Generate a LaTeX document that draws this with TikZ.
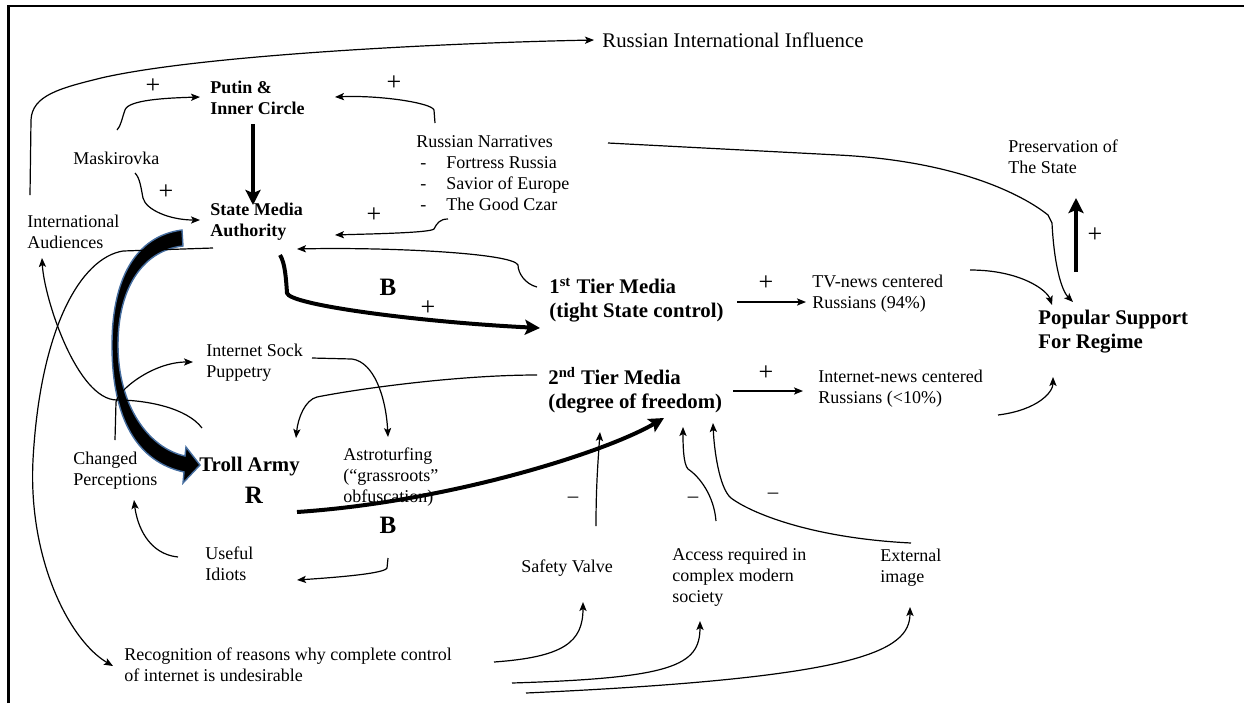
\documentclass[tikz,border=0pt]{standalone}
\usepackage{fontspec}
\setmainfont{Liberation Serif}
\usetikzlibrary{arrows.meta, calc}
\definecolor{brushblue}{RGB}{70, 110, 160}
\newcommand{\narritem}[1]{\hspace*{2pt}\makebox[13pt][l]{-}#1}
\tikzset{
  >=Stealth,
  txt/.style={inner sep=0pt, anchor=west, align=left, font=\fontsize{9}{10.4}\selectfont},
  txtbold/.style={txt, font=\fontsize{9}{10.4}\selectfont\bfseries},
  bigtxt/.style={txt, font=\fontsize{10.4}{12}\selectfont\bfseries},
  bigplain/.style={txt, font=\fontsize{10.4}{12}\selectfont},
  sign/.style={inner sep=0pt, font=\fontsize{13}{14}\selectfont},
  negsign/.style={inner sep=0pt, font=\fontsize{10.4}{12}\selectfont},
  looplbl/.style={inner sep=0pt, font=\fontsize{12.5}{14}\selectfont\bfseries},
  flowarrow/.style={-{Stealth[length=4.5pt, width=3.6pt, inset=1pt]}, line width=0.6pt},
  heavyarrow/.style={-{Stealth[length=7.5pt, width=7.5pt, inset=1.5pt]}, line width=2.4pt},
  bigbrush/.style={fill=black, draw=brushblue, line width=0.7pt}
}
\begin{document}
\begin{tikzpicture}[x=0.5pt, y=-0.5pt]
    \useasboundingbox (0,0) rectangle (1244,703);
    \draw[line width=1.3pt] (8.5,703) -- (8.5,6) -- (1244,6);
    % factors
    \node (rii) [bigplain] at (602,40) {Russian International Influence};
    \node (putin) [txtbold] at (210,98) {Putin \&\\Inner Circle};
    \node (mask) [txt] at (73,158) {Maskirovka};
    \node (sma) [txtbold] at (210,222) {State Media\\Authority};
    \node (intaud) [txt] at (27,232) {International\\Audiences};
    \node (narr) [txt] at (416,173) {Russian Narratives\\\narritem{Fortress Russia}\\\narritem{Savior of Europe}\\\narritem{The Good Czar}};
    \node (pres) [txt] at (1008,157) {Preservation of\\The State};
    \node (tier1) [bigtxt] at (549,300) {1\textsuperscript{st} Tier Media\\(tight State control)};
    \node (tier2) [bigtxt] at (548,390) {2\textsuperscript{nd} Tier Media\\(degree of freedom)};
    \node (tvnews) [txt] at (812,294) {TV-news centered\\Russians (94\%)};
    \node (inews) [txt] at (818,389) {Internet-news centered\\Russians (<10\%)};
    \node (popsup) [bigtxt] at (1038,332) {Popular Support\\For Regime};
    \node (sock) [txt] at (206,363) {Internet Sock\\Puppetry};
    \node (troll) [bigtxt] at (199,467) {Troll Army};
    \node (changed) [txt] at (73,471) {Changed\\Perceptions};
    \node (astro) [txt] at (343,477) {Astroturfing\\(“grassroots”\\obfuscation)};
    \node (useful) [txt] at (205,564) {Useful\\Idiots};
    \node (safety) [txt] at (521,568) {Safety Valve};
    \node (access) [txt] at (672,577) {Access required in\\complex modern\\society};
    \node (extimg) [txt] at (880,568) {External\\image};
    \node (recog) [txt] at (124,665) {Recognition of reasons why complete control\\of internet is undesirable};
    % polarity signs and loop labels
    \node (plputin) [sign] at (153,86) {+};
    \node (plnarr) [sign] at (394,83) {+};
    \node (plmask) [sign] at (166,192) {+};
    \node (plnarrsma) [sign] at (374,215) {+};
    \node (plsma) [sign] at (428,308) {+};
    \node (pltv) [sign] at (766,283) {+};
    \node (plnet) [sign] at (766,373) {+};
    \node (plpres) [sign] at (1095,235) {+};
    \node (mnsafe) [negsign] at (573,500) {–};
    \node (mnaccess) [negsign] at (693,500) {–};
    \node (mnext) [negsign] at (773,496) {–};
    \node (loopb) [looplbl] at (388,287) {B};
    \node (loopr) [looplbl] at (254,495) {R};
    \node (loopbb) [looplbl] at (388,525) {B};
    % links
    \draw[flowarrow] ($(intaud.west)+(3,-37)$) -- ++(1,-75) .. controls +(1,-25) and +(-40,10) .. ++(70,-42) .. controls +(100,-23) and +(-150,3) .. ($(rii.west)+(-8,0)$);
    \draw[flowarrow] ($(mask.west)+(44,-28)$) .. controls +(4,-4) and +(-3,8) .. ++(8,-20) .. controls +(3,-10) and +(-35,1) .. ($(putin.west)+(-10,-1)$);
    \draw[flowarrow] ($(narr.west)+(19,-50)$) -- ++(-1,-13) .. controls +(-2,-7) and +(45,-2) .. ($(putin.west)+(125,-1)$);
    \draw[heavyarrow] ($(putin.west)+(43,26)$) -- ($(sma.west)+(43,-17)$);
    \draw[flowarrow] ($(mask.west)+(62,15)$) .. controls +(5,5) and +(-2,-10) .. ++(8,25) .. controls +(3,12) and +(-30,0) .. ($(sma.west)+(-10,-2)$);
    \draw[flowarrow] ($(narr.west)+(32,46)$) .. controls +(-8,0) and +(3,-6) .. ++(-14,10) .. controls +(-4,4) and +(30,-1) .. ($(sma.west)+(125,13)$);
    \draw[flowarrow] ($(tier1.west)+(-12,-13)$) .. controls +(-12,-3) and +(0,8) .. ++(-19,-22) .. controls +(-5,-12) and +(90,-2) .. ($(sma.west)+(87,27)$);
    \draw[heavyarrow, line width=2pt] ($(sma.west)+(70,33)$) .. controls +(5,8) and +(-1,-15) .. ++(7,38) .. controls +(2,12) and +(-120,-6) .. ($(tier1.west)+(-9,28)$);
    \filldraw[bigbrush] ($(sma.west)+(-28,8)$) -- ($(sma.west)+(-27,24)$) .. controls (145,250) and (118,285) .. (118,345) .. controls (118,405) and (148,448) .. ($(troll.west)+(-14,-11)$) -- ($(troll.west)+(-13,-20)$) -- ($(troll.west)+(1,-2)$) -- ($(troll.west)+(-16,16)$) -- ($(troll.west)+(-15,5)$) .. controls (138,462) and (112,420) .. (112,345) .. controls (112,280) and (135,236) .. ($(sma.west)+(-28,8)$) -- cycle;
    \draw[flowarrow] ($(sock.west)+(106,-5)$) -- ++(40,1) .. controls +(22,3) and +(-2,-40) .. ($(astro.west)+(45,-40)$);
    \draw[flowarrow] ($(tier2.west)+(-11,-15)$) .. controls +(-80,0) and +(40,-8) .. ++(-220,22) .. controls +(-12,3) and +(2,-20) .. ($(troll.west)+(97,-29)$);
    \draw[flowarrow] ($(changed.west)+(42,-31)$) -- ++(1,-38) .. controls +(2,-12) and +(-40,0) .. ($(sock.west)+(-13,-1)$);
    \draw[flowarrow] ($(troll.west)+(3,-39)$) .. controls +(-15,-20) and +(30,0) .. ++(-85,-28) .. controls +(-40,0) and +(2,40) .. ($(intaud.west)+(15,26)$);
    \draw[flowarrow] ($(sma.west)+(3,26)$) -- ++(-90,3) .. controls +(-43,7) and +(7,-130) .. ++(-90,209) .. controls +(-5,100) and +(-43,-25) .. ($(recog.west)+(-11,1)$);
    \draw[heavyarrow, line width=2pt] ($(troll.west)+(98,45)$) .. controls +(150,-10) and +(-60,35) .. ($(tier2.west)+(116,28)$);
    \draw[flowarrow] ($(astro.west)+(45,81)$) -- ++(-1,10) .. controls +(-2,6) and +(30,-2) .. ($(useful.west)+(92,16)$);
    \draw[flowarrow] ($(useful.west)+(-27,-7)$) .. controls +(-30,-3) and +(3,25) .. ($(changed.west)+(61,29)$);
    \draw[flowarrow] ($(safety.west)+(75,-42)$) .. controls +(0,-40) and +(-2,30) .. ($(tier2.west)+(52,42)$);
    \draw[flowarrow] ($(access.west)+(44,-56)$) .. controls +(-2,-25) and +(12,8) .. ++(-28,-52) .. controls +(-5,-5) and +(0,15) .. ($(tier2.west)+(135,37)$);
    \draw[flowarrow] ($(extimg.west)+(31,-25)$) .. controls +(-100,-5) and +(20,15) .. ++(-180,-45) .. controls +(-12,-10) and +(1,25) .. ($(tier2.west)+(165,33)$);
    \draw[flowarrow] ($(recog.west)+(370,-3)$) .. controls +(70,-5) and +(0,40) .. ($(safety.west)+(62,34)$);
    \draw[flowarrow] ($(recog.west)+(388,18)$) .. controls +(160,-5) and +(0,45) .. ($(access.west)+(28,44)$);
    \draw[flowarrow] ($(recog.west)+(402,28)$) .. controls +(330,-15) and +(0,45) .. ($(extimg.west)+(30,39)$);
    \draw[flowarrow] ($(tier1.west)+(188,2)$) -- ($(tvnews.west)+(-6,8)$);
    \draw[flowarrow] ($(tier2.west)+(185,1)$) -- ($(inews.west)+(-15,2)$);
    \draw[flowarrow] ($(tvnews.west)+(158,-24)$) .. controls +(50,0) and +(-5,-15) .. ($(popsup.west)+(14,-27)$);
    \draw[flowarrow] ($(inews.west)+(180,26)$) .. controls +(40,-5) and +(0,15) .. ($(popsup.west)+(15,45)$);
    \draw[flowarrow] ($(narr.west)+(192,-30)$) -- ++(230,12) .. controls +(120,6) and +(-25,-20) .. ++(210,60) -- ++(4,8) .. controls +(2,40) and +(-12,-12) .. ($(popsup.west)+(35,-30)$);
    \draw[heavyarrow] ($(popsup.west)+(38,-60)$) -- ($(pres.west)+(68,41)$);
\end{tikzpicture}
\end{document}
